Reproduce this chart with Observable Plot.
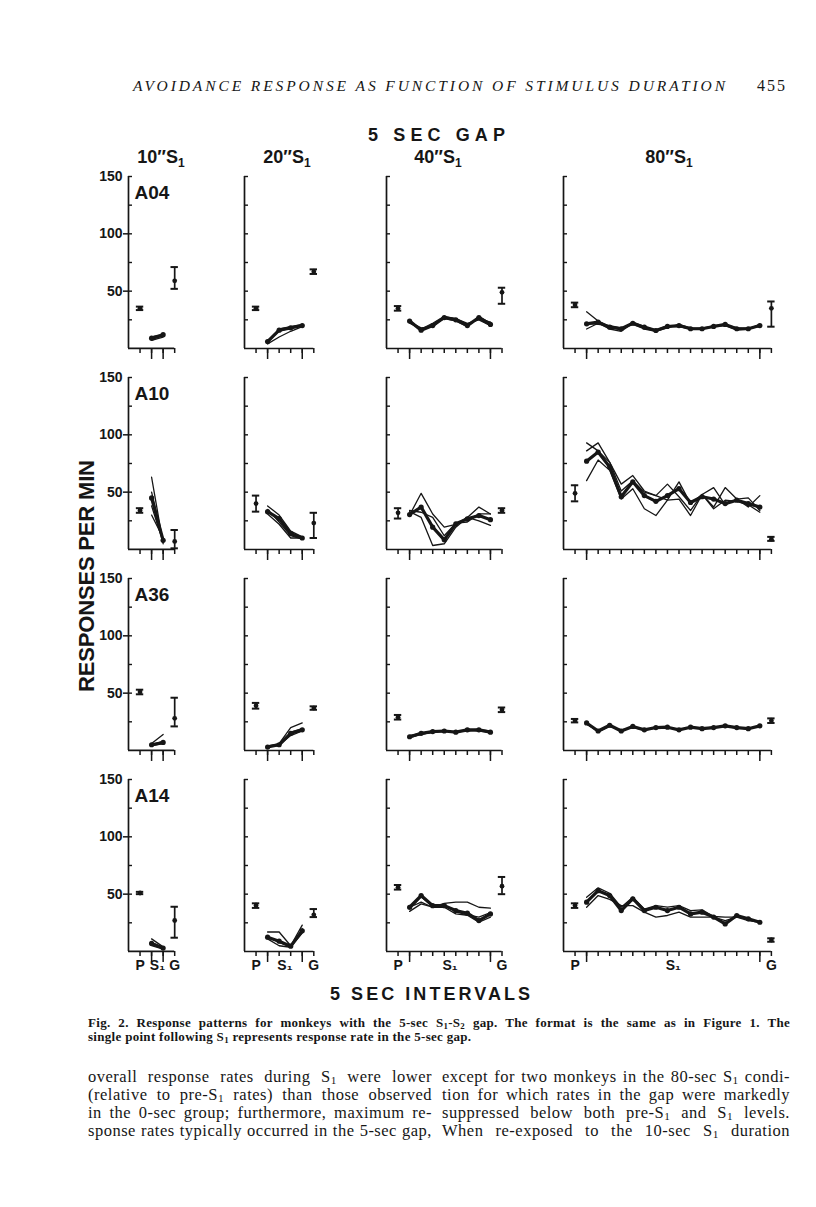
<!DOCTYPE html>
<html><head><meta charset="utf-8">
<script src="https://cdn.jsdelivr.net/npm/d3@7"></script>
<script src="https://cdn.jsdelivr.net/npm/@observablehq/plot@0.6"></script>
<style>
html,body{margin:0;padding:0;background:#fff;}
#page{position:relative;width:816px;height:1207px;overflow:hidden;background:#fff;color:#161616;}
.panel{position:absolute;}
.panel svg{overflow:visible;}
#overlay{position:absolute;left:0;top:0;}
.jline{position:absolute;white-space:nowrap;text-align:justify;text-align-last:justify;font-family:'Liberation Serif','Times New Roman',serif;}
.jline sub{font-size:68%;vertical-align:-0.22em;line-height:0;}
.body{font-size:16.5px;letter-spacing:0.5px;line-height:18px;height:18px;}
.cap{font-size:13px;letter-spacing:0.3px;font-weight:bold;line-height:14px;height:14px;}
</style></head>
<body><div id="page"></div>
<script>
// ---------------- DATA ----------------
const monkeys = ["A04", "A10", "A36", "A14"];
const colTitleText = ['10″S_1', '20″S_1', '40″S_1', '80″S_1'];
const s1Points = [2, 4, 8, 16];           // number of 5-sec intervals in S1
const yTicks = [25, 50, 75, 100, 125, 150];
const yLabels = [50, 100, 150];
const xLabels = ["P", "S₁", "G"];

// pre-S1 (P) mean and range, rows = monkeys, cols = S1 duration
const preMean = [[35, 35, 35, 38], [34, 40, 32, 49], [51, 39, 29, 26], [51, 40, 56, 40]];
const preLo   = [[33.5, 33.5, 33, 36], [32, 33, 27, 42], [49, 36.5, 27, 24.5], [50, 38, 54, 38]];
const preHi   = [[36.5, 36.5, 37, 40], [36, 47, 36, 56], [53, 41.5, 31, 27.5], [52, 42, 58, 42]];
// 5-sec gap (G) mean and range
const gapMean = [[59, 67, 49, 35], [7, 23, 34, 9], [28, 37, 35.5, 26], [27, 32, 57, 10]];
const gapLo   = [[52, 65, 39, 19], [1, 10, 32, 7.5], [21, 35.5, 33.5, 24], [12, 30, 50, 8.5]];
const gapHi   = [[71, 69, 53, 41], [17, 32, 36, 11], [46, 38.5, 37.5, 28], [39, 37, 65, 11.5]];

// S1 response rates: first series = mean (heavy line with dots), others = single sessions
const s1_A04_10 = [[9, 12], [8, 11], [10, 12], [7, 10]];
const s1_A04_20 = [[6, 16, 18, 20], [5, 17, 19, 21], [4, 10, 15, 19], [7, 15, 18, 20]];
const s1_A04_40 = [[24, 16, 20, 27, 25, 20, 27, 21], [22, 17, 22, 28, 26, 21, 26, 23], [25, 15, 21, 26, 24, 19, 28, 22], [23, 18, 19, 27, 26, 22, 25, 20]];
const s1_A04_80 = [[21.5, 23, 18.6, 17.2, 22, 18.6, 15.7, 19.2, 20, 17.2, 17.2, 19.2, 21, 17.2, 17.2, 20],
                   [32, 24, 19, 16, 23, 19, 16, 19, 19, 17, 18, 19, 21, 18, 17, 20],
                   [17, 22, 17, 15, 22, 18, 16, 20, 20, 17, 17, 20, 21, 17, 18, 19],
                   [22, 21, 20, 18, 21, 17, 15, 18, 21, 18, 17, 19, 20, 16, 17, 21]];
const s1_A10_10 = [[45, 8], [63, 5], [50, 8], [38, 6], [30, 10]];
const s1_A10_20 = [[33, 27, 14, 10], [35, 24, 12, 9], [38, 30, 16, 11], [31, 22, 10, 10]];
const s1_A10_40 = [[30.5, 37, 19.5, 8.4, 22.4, 26.7, 29.6, 26], [30, 49, 31, 19.5, 22, 28, 37, 31],
                   [33, 28, 3.5, 5, 19.5, 28, 25, 21], [34, 32.5, 28, 12, 23, 24, 31, 31]];
const s1_A10_80 = [[77, 85, 72, 46, 59, 47, 42, 47, 53, 41, 46, 44, 40, 43, 40, 37],
                   [93, 86, 76, 51, 60, 50, 47, 57, 46, 34, 48, 37, 54, 44, 37, 47],
                   [86, 93, 76, 57, 64.5, 51, 47, 43, 59, 40, 48, 54, 39, 44, 45, 34],
                   [60, 78, 69, 44, 53, 35.5, 29.6, 43, 44, 29.6, 48, 35.5, 43, 42, 39, 32.5]];
const s1_A36_10 = [[5, 7], [6, 14], [5, 8], [4, 6]];
const s1_A36_20 = [[3, 5, 15, 18], [4, 6, 20, 24], [3, 5, 13, 17], [4, 4, 16, 19]];
const s1_A36_40 = [[12, 15, 16.5, 17, 16, 18, 18, 16], [12, 14, 16, 16.5, 16.5, 17, 18, 17],
                   [13, 15, 17, 17, 16, 17.5, 17, 16], [11, 14, 16, 17, 16, 18, 18.5, 15]];
const s1_A36_80 = [[24, 17, 22, 17, 21, 18, 20, 20.3, 18, 20.3, 19, 20, 21.5, 20, 19, 21.5],
                   [24, 16, 21, 18, 20, 18, 19.5, 20, 18.5, 20, 19, 20.5, 21, 19.5, 19, 21],
                   [23, 17, 22, 17, 21, 17.5, 20, 20, 18, 20, 19, 20, 21.5, 19.5, 19, 21.5]];
const s1_A14_10 = [[7, 3], [11, 4], [5, 2], [8, 3]];
const s1_A14_20 = [[12.5, 9, 4.6, 18], [17, 17, 5, 23], [11, 5, 3.7, 20], [13, 8, 4, 16]];
const s1_A14_40 = [[38.6, 48.8, 40, 40, 35.7, 33.4, 27, 32.8], [38.6, 43, 38.6, 42, 43, 43, 38.6, 37.8],
                   [35, 41.5, 38.6, 38.6, 32.8, 31.6, 25.5, 30], [37, 47.8, 39, 41, 34.5, 32, 30, 34]];
const s1_A14_80 = [[43, 53, 48.8, 35.7, 46, 35.7, 38.6, 35.7, 38.6, 32.8, 34.3, 30, 24, 31.4, 28.5, 25.5],
                   [38.6, 48.8, 45.5, 40, 40, 34.3, 30, 31.4, 34.3, 30, 30, 30, 27, 30, 27, 25.5],
                   [47.3, 55.5, 50.8, 38.6, 47.3, 37, 40, 38.6, 40, 35.7, 36.3, 30.5, 30, 30, 28.5, 25.5]];
const s1Data = [
  [s1_A04_10, s1_A04_20, s1_A04_40, s1_A04_80],
  [s1_A10_10, s1_A10_20, s1_A10_40, s1_A10_80],
  [s1_A36_10, s1_A36_20, s1_A36_40, s1_A36_80],
  [s1_A14_10, s1_A14_20, s1_A14_40, s1_A14_80]];

// text
const headerText = "AVOIDANCE RESPONSE AS FUNCTION OF STIMULUS DURATION";
const pageNum = "455";
const figTitle = "5 SEC GAP";
const xTitle = "5 SEC INTERVALS";
const yTitle = "RESPONSES PER MIN";
const captionLines = [
  "Fig. 2. Response patterns for monkeys with the 5-sec S_1-S_2 gap. The format is the same as in Figure 1. The",
  "single point following S_1 represents response rate in the 5-sec gap."];
const bodyLeft = [
  "overall response rates during S_1 were lower",
  "(relative to pre-S_1 rates) than those observed",
  "in the 0-sec group; furthermore, maximum re-",
  "sponse rates typically occurred in the 5-sec gap,"];
const bodyRight = [
  "except for two monkeys in the 80-sec S_1 condi-",
  "tion for which rates in the gap were markedly",
  "suppressed below both pre-S_1 and S_1 levels.",
  "When re-exposed to the 10-sec S_1 duration"];

// ---------------- LAYOUT ----------------
const page = document.getElementById("page");
const axisXpx = [128, 244, 386, 563];
const baselinePx = [348, 549, 750, 951];
const S = 11.55, PH = 172, ML = 50, MR = 16, MT = 12, MB = 34;
const INK = "#161616";

function makePanel(r, c) {
  const n = s1Points[c];
  const series = s1Data[r][c];
  const pw = (n + 2) * S;
  const W = ML + pw + MR, H = MT + PH + MB;
  const mean = series[0].map((v, i) => ({x: i + 1, y: v}));
  const thin = series.slice(1).flatMap((arr, k) => arr.map((v, i) => ({x: i + 1, y: v, k})));
  const eb = [
    {x: 0, m: preMean[r][c], lo: preLo[r][c], hi: preHi[r][c]},
    {x: n + 1, m: gapMean[r][c], lo: gapLo[r][c], hi: gapHi[r][c]}];
  const cap = 0.32;
  const marks = [
    Plot.ruleX([-1], {strokeWidth: 1.7}),
    Plot.ruleY([0], {strokeWidth: 1.7}),
    Plot.tickY(yTicks, {y: d => d, insetRight: pw - 4, strokeWidth: 1.4}),
    Plot.axisX({ticks: d3.range(0, n + 2), tickSize: 5, tickFormat: () => "", label: null, strokeWidth: 1.5}),
    Plot.axisX({ticks: [1, n], tickSize: 11, tickFormat: () => "", label: null, strokeWidth: 1.5}),
    Plot.line(thin, {x: "x", y: "y", z: "k", strokeWidth: 1.3}),
    Plot.line(mean, {x: "x", y: "y", strokeWidth: 3.2}),
    Plot.dot(mean, {x: "x", y: "y", r: 2.6, fill: "currentColor", stroke: null}),
    Plot.ruleX(eb, {x: "x", y1: "lo", y2: "hi", strokeWidth: 1.7}),
    Plot.ruleY(eb, {y: "lo", x1: d => d.x - cap, x2: d => d.x + cap, strokeWidth: 2}),
    Plot.ruleY(eb, {y: "hi", x1: d => d.x - cap, x2: d => d.x + cap, strokeWidth: 2}),
    Plot.dot(eb, {x: "x", y: "m", r: 2.4, fill: "currentColor", stroke: null})
  ];
  if (c === 0) {
    marks.push(Plot.axisY({ticks: yLabels, tickSize: 0, tickPadding: 6, fontSize: 14, fontWeight: "bold", label: null}));
    marks.push(Plot.axisY({ticks: [50, 100], tickSize: 5, tickFormat: () => "", label: null, strokeWidth: 1.5}));
    marks.push(Plot.text([monkeys[r]], {text: d => d, frameAnchor: "top-left", lineAnchor: "top", dx: 6, dy: 9, fontSize: 19, fontWeight: "bold"}));
  }
  if (r === 3) {
    const xl = [{x: 0, t: xLabels[0]}, {x: (n + 1) / 2, t: xLabels[1]}, {x: n + 1, t: xLabels[2]}];
    marks.push(Plot.text(xl, {x: "x", text: "t", frameAnchor: "bottom", lineAnchor: "top", dy: 9, fontSize: 14, fontWeight: "bold"}));
  }
  const chart = Plot.plot({
    width: W, height: H,
    marginLeft: ML, marginRight: MR, marginTop: MT, marginBottom: MB,
    x: {domain: [-1, n + 1]},
    y: {domain: [0, 150], axis: c === 0 ? undefined : null},
    style: {fontFamily: "'Liberation Sans', Arial, sans-serif", color: INK, background: "transparent", overflow: "visible"},
    marks
  });
  const div = document.createElement("div");
  div.className = "panel";
  div.style.left = (axisXpx[c] - ML) + "px";
  div.style.top = (baselinePx[r] - PH - MT) + "px";
  div.appendChild(chart);
  page.appendChild(div);
}
for (let r = 0; r < 4; r++) for (let c = 0; c < 4; c++) makePanel(r, c);

// ---------------- PAGE TEXT ----------------
const ov = d3.select(page).append("svg").attr("id", "overlay").attr("width", 816).attr("height", 1207)
  .style("fill", INK);
function addText(str, attrs, subSize, shift) {
  const t = ov.append("text");
  for (const [k, v] of Object.entries(attrs)) t.attr(k, v);
  const parts = str.split(/_(\d)/);
  let pending = 0;
  parts.forEach((p, i) => {
    if (i % 2 === 0) {
      if (p) { const ts = t.append("tspan").text(p); if (pending) { ts.attr("dy", -pending); pending = 0; } }
    } else {
      t.append("tspan").attr("dy", shift).attr("font-size", subSize).text(p);
      pending = shift;
    }
  });
  return t;
}
function addLine(str, cls, left, top, width) {
  const d = document.createElement("div");
  d.className = "jline " + cls;
  d.style.left = left + "px";
  d.style.top = top + "px";
  d.style.width = width + "px";
  if (width === null) { d.style.width = "auto"; d.style.textAlign = "left"; d.style.textAlignLast = "left"; }
  str.split(/_(\d)/).forEach((p, i) => {
    if (i % 2 === 0) d.appendChild(document.createTextNode(p));
    else { const s = document.createElement("sub"); s.textContent = p; d.appendChild(s); }
  });
  page.appendChild(d);
}
const SANS = "'Liberation Sans', Arial, sans-serif";
const SERIF = "'Liberation Serif', 'Times New Roman', serif";
addText(headerText, {x: 133, y: 91, "font-family": SERIF, "font-style": "italic", "font-size": 15.5, textLength: 592, lengthAdjust: "spacing"});
addText(pageNum, {x: 757, y: 91, "font-family": SERIF, "font-size": 16, textLength: 28, lengthAdjust: "spacing"});
addText(figTitle, {x: 368, y: 141, "font-family": SANS, "font-weight": "bold", "font-size": 18, textLength: 137, lengthAdjust: "spacing"});
const colCenters = [161, 287, 438, 669];
colTitleText.forEach((s, i) => addText(s, {x: colCenters[i], y: 163, "text-anchor": "middle", "font-family": SANS, "font-weight": "bold", "font-size": 18}, 12, 4));
addText(yTitle, {transform: "translate(94,576) rotate(-90)", "text-anchor": "middle", "font-family": SANS, "font-weight": "bold", "font-size": 22, textLength: 232, lengthAdjust: "spacing"});
addText(xTitle, {x: 330, y: 1000, "font-family": SANS, "font-weight": "bold", "font-size": 18, textLength: 200, lengthAdjust: "spacing"});
// caption and body text as justified lines
addLine(captionLines[0], "cap", 88, 1016, 702);
addLine(captionLines[1], "cap", 88, 1030, null);
bodyLeft.forEach((s, i) => addLine(s, "body", 88, 1068 + i * 18, 344));
bodyRight.forEach((s, i) => addLine(s, "body", 442, 1068 + i * 18, 348));
</script>
</body></html>
